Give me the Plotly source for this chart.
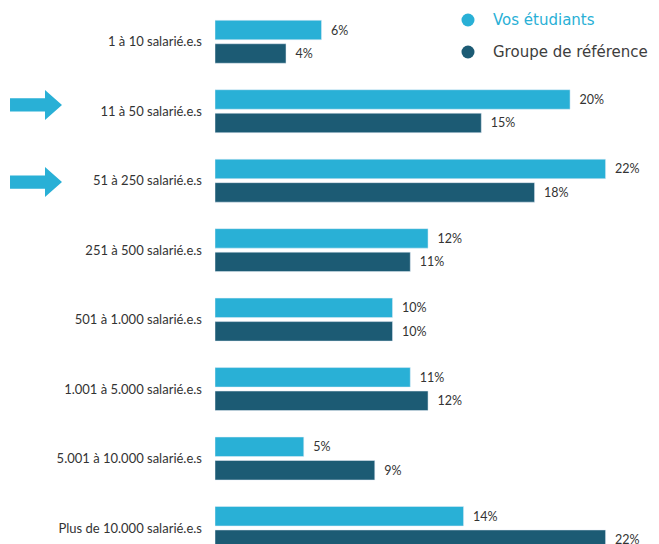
import plotly.graph_objects as go

categories = [
    "1 à 10 salarié.e.s",
    "11 à 50 salarié.e.s",
    "51 à 250 salarié.e.s",
    "251 à 500 salarié.e.s",
    "501 à 1.000 salarié.e.s",
    "1.001 à 5.000 salarié.e.s",
    "5.001 à 10.000 salarié.e.s",
    "Plus de 10.000 salarié.e.s",
]
vos_etudiants = [6, 20, 22, 12, 10, 11, 5, 14]
groupe_reference = [4, 15, 18, 11, 10, 12, 9, 22]
series_names = ["Vos étudiants", "Groupe de référence"]
highlighted = ["11 à 50 salarié.e.s", "51 à 250 salarié.e.s"]
arrow_offsets = [-0.09, 0.02]

LIGHT = "#29B0D6"
DARK = "#1C5B74"
TEXT = "#333333"
LEGEND_TEXT = [LIGHT, "#3d3d3d"]

pos = list(range(len(categories)))

fig = go.Figure()
for vals, col, name in [(vos_etudiants, LIGHT, series_names[0]),
                        (groupe_reference, DARK, series_names[1])]:
    fig.add_trace(go.Bar(
        y=pos, x=vals, orientation="h", marker_color=col, name=name,
        texttemplate="\u00a0\u00a0%{x}%", textposition="outside", cliponaxis=False,
        textfont=dict(family="Lato", size=12.5, color=TEXT),
        showlegend=False, hoverinfo="skip",
    ))

# arrows pointing at highlighted categories
shapes = []
for cat, off in zip(highlighted, arrow_offsets):
    yc = categories.index(cat) + off
    x0, xm, x1 = -0.4535, -0.3761, -0.3385
    hs, hh = 0.095, 0.216
    path = (f"M {x0} {yc - hs} L {xm} {yc - hs} L {xm} {yc - hh} L {x1} {yc} "
            f"L {xm} {yc + hh} L {xm} {yc + hs} L {x0} {yc + hs} Z")
    shapes.append(dict(type="path", path=path, xref="paper", yref="y",
                       fillcolor=LIGHT, line=dict(width=0), layer="above"))

# custom legend (circle markers + coloured text)
annotations = []
legend_rows = [0.9779, 0.9191]
for name, col, tcol, ly in zip(series_names, [LIGHT, DARK], LEGEND_TEXT, legend_rows):
    shapes.append(dict(type="circle", xref="paper", yref="paper",
                       xsizemode="pixel", ysizemode="pixel",
                       xanchor=0.5597, yanchor=ly, x0=-6.5, x1=6.5, y0=-6.5, y1=6.5,
                       fillcolor=col, line=dict(width=0)))
    annotations.append(dict(text=name, xref="paper", yref="paper",
                            x=0.6107, y=ly, xanchor="left", yanchor="middle",
                            showarrow=False,
                            font=dict(family="DejaVu Sans", size=15, color=tcol)))

fig.update_layout(
    width=659, height=544,
    margin=dict(l=207, r=0, t=0, b=0),
    paper_bgcolor="white", plot_bgcolor="white",
    barmode="group", bargap=0.324, bargroupgap=0.17,
    xaxis=dict(range=[0, 25.46], visible=False),
    yaxis=dict(range=[7.346, -0.486], tickvals=pos, ticktext=categories,
               showgrid=False, zeroline=False, showline=False, ticks="",
               ticklabelstandoff=12,
               tickfont=dict(family="Lato", size=13, color=TEXT)),
    shapes=shapes,
    annotations=annotations,
    showlegend=False,
)

fig.write_html("out.html")
